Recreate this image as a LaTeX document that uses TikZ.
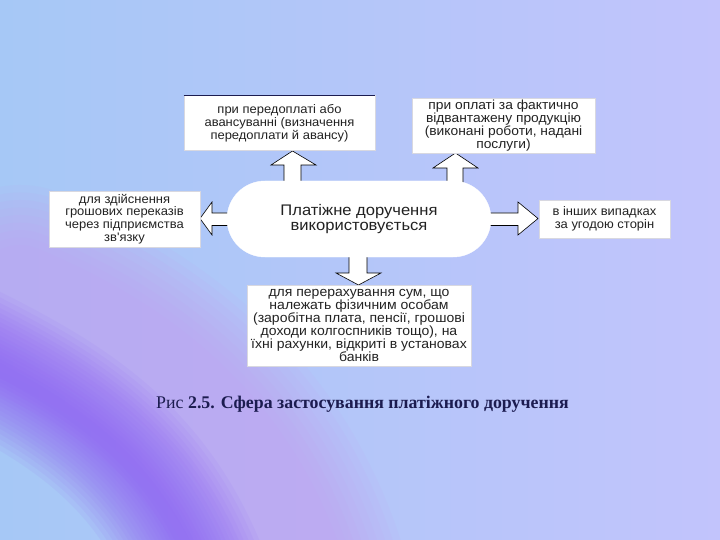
\documentclass[tikz,border=0pt]{standalone}
\usepackage{fontspec}
\setmainfont{Liberation Sans}
\newfontfamily\boxfont[FakeStretch=1.05]{Liberation Sans}
\newfontfamily\midfont[FakeStretch=1.08]{Liberation Sans}
\newfontfamily\capfont{Liberation Serif}
\usetikzlibrary{shapes.misc}
\definecolor{bgA}{HTML}{A6C8F6}
\definecolor{bgB}{HTML}{C2C4FC}
\definecolor{deep}{HTML}{9060F2}
\definecolor{pinkv}{HTML}{CC98F2}
\definecolor{txt}{HTML}{222222}
\definecolor{capc}{HTML}{1C1C50}
\definecolor{edge}{HTML}{D8D8E0}
\tikzset{
  box/.style={draw=edge, line width=0.6pt, fill=white, inner sep=0pt, align=center,
    text=txt, font=\boxfont\fontsize{12.4}{12.9}\selectfont},
  blockarrow/.style={draw=black, line width=0.6pt, fill=white, line join=miter},
  band/.style={line cap=round, opacity=0.08}
}
\begin{document}
\begin{tikzpicture}[x=1bp,y=-1bp]
\useasboundingbox (0,0) rectangle (720,540);
% background
\shade[left color=bgA, right color=bgB] (0,0) rectangle (720,540);
\begin{scope}
\clip (0,0) rectangle (720,540);
\foreach \w in {210,195,180,165,150,135,120,105,90}
  \draw[band, pinkv, line width=\w bp] (20,290) .. controls (140,340) and (250,420) .. (300,570);
\foreach \w in {140,130,120,111,102,94,86,78,70,62,55,48,41,34,27,20,13}
  \draw[band, deep, line width=\w bp] (-40,350) .. controls (60,400) and (150,450) .. (200,580);
\end{scope}
% arrows (drawn first, shapes on top)
\draw[blockarrow] (284,186) -- (284,165) -- (271,165) -- (292.5,151) -- (316,165) -- (301,165) -- (301,186);
\draw[blockarrow] (447,186) -- (447,168) -- (433,168) -- (455.5,153) -- (478,168) -- (463,168) -- (463,186);
\draw[blockarrow] (232,213) -- (212,213) -- (212,202) -- (200,218.5) -- (212,235) -- (212,225.5) -- (232,225.5);
\draw[blockarrow] (487,213) -- (518,213) -- (518,202) -- (538,218.5) -- (518,235) -- (518,225.5) -- (487,225.5);
\draw[blockarrow] (349,253) -- (349,273) -- (336,273) -- (358.5,285) -- (381,273) -- (367,273) -- (367,253);
% central shape
\node[rounded rectangle, fill=white, draw=white, minimum width=264bp, minimum height=76bp,
  inner sep=0pt, align=center, text=txt, font=\midfont\fontsize{15.4}{15.5}\selectfont]
  (c) at (359,219) {Платіжне доручення\\використовується};
% boxes
\node[box, minimum width=191bp, minimum height=55bp] (tl) at (279.5,123)
  {при передоплаті або\\авансуванні (визначення\\передоплати й авансу)};
\draw[capc, line width=1.2pt] (tl.north west) -- (tl.north east);
\node[box, minimum width=183bp, minimum height=55bp, font=\boxfont\fontsize{13.2}{12.8}\selectfont] (tr) at (503.5,125.5)
  {при оплаті за фактично\\відвантажену продукцію\\(виконані роботи, надані\\послуги)};
\node[box, minimum width=151bp, minimum height=56bp] (lf) at (124.5,219)
  {для здійснення\\грошових переказів\\через підприємства\\зв'язку};
\node[box, minimum width=131bp, minimum height=38bp] (rt) at (604.5,219)
  {в інших випадках\\за угодою сторін};
\node[box, minimum width=224bp, minimum height=81bp, font=\boxfont\fontsize{13.4}{13}\selectfont] (bt) at (359,325.5)
  {для перерахування сум, що\\належать фізичним особам\\(заробітна плата, пенсії, грошові\\доходи колгоспників тощо), на\\їхні рахунки, відкриті в установах\\банків};
% caption
\node[text=capc, font=\capfont\fontsize{17.9}{20}\selectfont, inner sep=0pt] (cap) at (362.5,404)
  {Рис \textbf{2.5. Сфера застосування платіжного доручення}};
\end{tikzpicture}
\end{document}
